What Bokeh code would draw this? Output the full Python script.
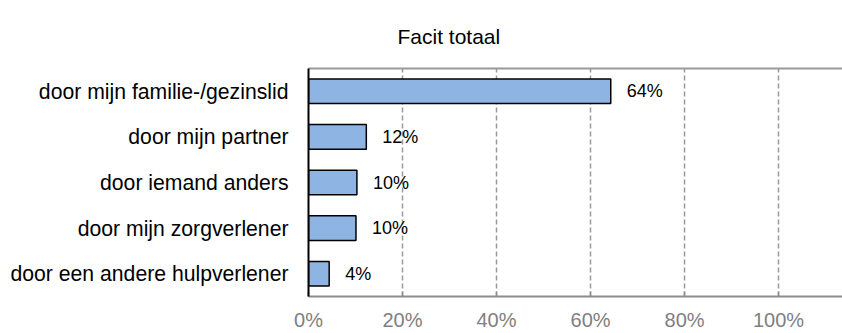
from bokeh.plotting import figure
from bokeh.models import (FactorRange, Range1d, FixedTicker, PrintfTickFormatter,
                          LinearAxis, ColumnDataSource)
from bokeh.core.properties import value
from bokeh.embed import file_html
from bokeh.resources import INLINE

# ---- data ----
categories = [
    "door mijn familie-/gezinslid",
    "door mijn partner",
    "door iemand anders",
    "door mijn zorgverlener",
    "door een andere hulpverlener",
]
percentages = [64.3, 12.3, 10.3, 10.1, 4.4]
x_ticks = [0, 20, 40, 60, 80, 100]
title_text = "Facit totaal"

labels = [f"{round(v)}%" for v in percentages]
source = ColumnDataSource(dict(cat=categories, pct=percentages, lbl=labels))

FONT = "Liberation Sans"

p = figure(width=842, height=333, output_backend="svg", toolbar_location=None,
           y_range=FactorRange(factors=categories[::-1], range_padding=0),
           x_range=Range1d(0, 113.6),
           min_border_left=308, min_border_right=0,
           min_border_top=68, min_border_bottom=35)
p.outline_line_color = None
p.background_fill_color = "white"
p.border_fill_color = "white"

p.hbar(y="cat", left=0, right="pct", height=0.54, source=source,
       fill_color="#8EB4E3", line_color="black", line_width=1.5)
p.text(x="pct", y="cat", text="lbl", source=source, x_offset=16,
       text_align="left", text_baseline="middle",
       text_font=value(FONT), text_font_size="18px", text_color="black")

# title
p.title.text = title_text
p.title.align = "left"
p.title.offset = 89
p.title.text_font = FONT
p.title.text_font_size = "21px"
p.title.text_font_style = "normal"
p.title.text_color = "black"
p.title.standoff = 42

# top border line as an axis without ticks
top = LinearAxis(ticker=FixedTicker(ticks=[]), axis_line_color="#999999",
                 axis_line_width=2, major_tick_in=0, major_tick_out=0,
                 minor_tick_in=0, minor_tick_out=0,
                 major_label_text_font_size="0px")
p.add_layout(top, "above")

# bottom axis
xa = p.below[0]
xa.ticker = FixedTicker(ticks=x_ticks)
xa.formatter = PrintfTickFormatter(format="%d%%")
xa.axis_line_color = "#8c8c8c"
xa.axis_line_width = 2
xa.major_tick_in = 5
xa.major_tick_out = 0
xa.major_tick_line_color = "#8c8c8c"
xa.major_tick_line_width = 1.5
xa.minor_tick_line_color = None
xa.major_label_standoff = 12
xa.major_label_text_font = FONT
xa.major_label_text_font_size = "20px"
xa.major_label_text_color = "#808080"

# left axis
ya = p.left[0]
ya.axis_line_color = "black"
ya.axis_line_width = 2
ya.major_tick_line_color = None
ya.major_tick_in = 0
ya.major_tick_out = 0
ya.major_label_standoff = 20
ya.major_label_text_font = FONT
ya.major_label_text_font_size = "21.2px"
ya.major_label_text_color = "black"

# grid
p.xgrid.ticker = FixedTicker(ticks=x_ticks)
p.xgrid.grid_line_color = "#999999"
p.xgrid.grid_line_dash = "5 3"
p.xgrid.grid_line_width = 1.5
p.ygrid.grid_line_color = None

open("out.html", "w").write(file_html(p, INLINE))
